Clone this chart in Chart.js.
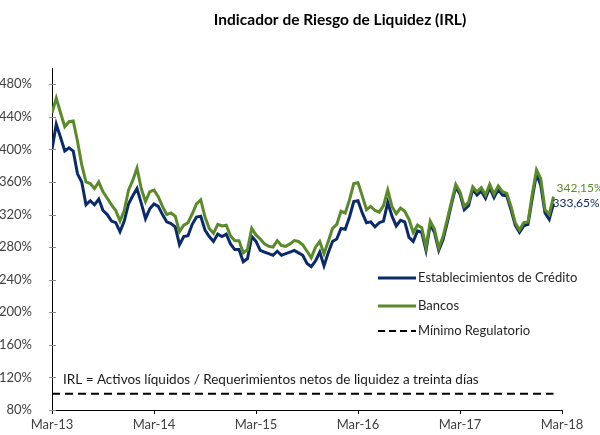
<!DOCTYPE html>
<html>
<head>
<meta charset="utf-8">
<script src="https://cdn.jsdelivr.net/npm/chart.js@4.4.1/dist/chart.umd.min.js"></script>
<style>
  body { margin: 0; background: #fff; }
  #wrap { width: 600px; height: 435px; }
</style>
</head>
<body>
<div id="wrap"><canvas id="irl" width="600" height="435"></canvas></div>
<script>
// - data (semi-monthly readings, Mar-13 .. Feb-18) -------------------
const yearLabels = ['Mar-13', 'Mar-14', 'Mar-15', 'Mar-16', 'Mar-17', 'Mar-18'];

const establecimientos = [
  400, 431, 415, 398, 402, 398, 370, 360, 332, 337, 332, 339, 325, 320, 312, 310, 299, 312, 333, 343,
  352, 334, 315, 327, 333, 330, 320, 311, 309, 305, 283, 293, 294, 308, 317, 318, 301, 293, 287, 296,
  293, 296, 284, 277, 277, 262, 266, 293, 287, 276, 274, 272, 270, 275, 270, 272, 274, 276, 273, 270,
  260, 256, 263, 274, 257, 273, 287, 290, 303, 302, 317, 336, 337, 322, 310, 311, 305, 310, 312, 335,
  318, 306, 313, 311, 292, 287, 300, 298, 276, 308, 298, 276, 289, 310, 333, 354, 345, 326, 331, 351,
  344, 349, 340, 353, 341, 351, 344, 343, 326, 307, 298, 306, 308, 340, 370, 356, 322, 314, 333.65
];

const bancos = [
  445, 463, 445, 428, 434, 435, 410, 381, 360, 358, 352, 360, 348, 340, 332, 325, 312, 325, 350, 362,
  377, 352, 336, 348, 350, 342, 330, 320, 322, 318, 299, 307, 310, 321, 333, 338, 317, 303, 297, 308,
  306, 307, 294, 288, 288, 273, 277, 303, 295, 290, 284, 281, 280, 288, 282, 281, 284, 288, 287, 283,
  275, 267, 280, 287, 272, 287, 303, 308, 324, 322, 338, 358, 359, 343, 326, 330, 325, 323, 331, 350,
  330, 321, 328, 324, 314, 298, 307, 304, 280, 312, 302, 279, 293, 314, 336, 357, 348, 330, 335, 354,
  348, 353, 344, 357, 345, 355, 348, 346, 330, 310, 301, 310, 311, 345, 375, 364, 326, 320, 342.15
];

const minimoRegulatorio = 100;
const lastLabels = ['333,65%', '342,15%'];

const BLUE = '#0b2a6a';
const GREEN = '#5b8a2a';
const FONT = 'Lato, "Open Sans", sans-serif';

// x = months since Mar-13 (half-month steps)
const toPoints = (arr) => arr.map((v, i) => ({ x: i / 2, y: v }));
const minimo = establecimientos.map(() => minimoRegulatorio);

// title, note, legend, end labels and y tick marks
const decorPlugin = {
  id: 'decor',
  afterDraw(chart) {
    const { ctx, chartArea, scales } = chart;
    ctx.save();

    // y tick marks (drawn across the axis line)
    ctx.strokeStyle = '#8c8c8c';
    ctx.lineWidth = 1;
    scales.y.ticks.forEach(t => {
      const y = Math.round(scales.y.getPixelForValue(t.value)) + 0.5;
      ctx.beginPath();
      ctx.moveTo(chartArea.left - 3, y);
      ctx.lineTo(chartArea.left + 4, y);
      ctx.stroke();
    });

    // title
    ctx.fillStyle = '#000';
    ctx.font = 'bold 15.5px ' + FONT;
    ctx.textAlign = 'center';
    ctx.textBaseline = 'middle';
    ctx.fillText('Indicador de Riesgo de Liquidez (IRL)', 340, 20);

    // formula note
    ctx.font = '13.5px ' + FONT;
    ctx.textAlign = 'left';
    ctx.fillStyle = '#1a1a1a';
    ctx.fillText('IRL = Activos líquidos / Requerimientos netos de liquidez a treinta días', 63, 380);

    // legend
    ctx.font = '13px ' + FONT;
    const items = [
      { text: 'Establecimientos de Crédito', color: BLUE, dash: [] },
      { text: 'Bancos', color: GREEN, dash: [] },
      { text: 'Mínimo Regulatorio', color: '#000', dash: [7, 4] },
    ];
    const ly = [278, 306, 331];
    items.forEach((it, i) => {
      ctx.beginPath();
      ctx.setLineDash(it.dash);
      ctx.strokeStyle = it.color;
      ctx.lineWidth = it.dash.length ? 2 : 3;
      ctx.moveTo(378, ly[i]);
      ctx.lineTo(416, ly[i]);
      ctx.stroke();
      ctx.setLineDash([]);
      ctx.fillStyle = '#262626';
      ctx.fillText(it.text, 418, ly[i]);
    });

    // end-of-series labels
    ctx.font = '12px ' + FONT;
    const blueLast = chart.getDatasetMeta(1).data.at(-1);
    const greenLast = chart.getDatasetMeta(0).data.at(-1);
    ctx.fillStyle = BLUE;
    ctx.fillText(lastLabels[0], blueLast.x - 1, blueLast.y);
    ctx.fillStyle = GREEN;
    ctx.fillText(lastLabels[1], greenLast.x + 3, greenLast.y - 8);

    ctx.restore();
  }
};

const ctx = document.getElementById('irl').getContext('2d');
new Chart(ctx, {
  type: 'line',
  data: {
    datasets: [
      {
        label: 'Bancos',
        data: toPoints(bancos),
        borderColor: GREEN,
        borderWidth: 3,
        pointRadius: 0,
        order: 1
      },
      {
        label: 'Establecimientos de Crédito',
        data: toPoints(establecimientos),
        borderColor: BLUE,
        borderWidth: 3,
        pointRadius: 0,
        order: 2
      },
      {
        label: 'Mínimo Regulatorio',
        data: toPoints(minimo),
        borderColor: '#000',
        borderWidth: 2,
        borderDash: [8, 5],
        pointRadius: 0,
        order: 3
      }
    ]
  },
  options: {
    responsive: false,
    animation: false,
    layout: { padding: { top: 68, right: 38, left: 0, bottom: 0 } },
    scales: {
      x: {
        type: 'linear',
        min: 0,
        max: 60,
        afterFit: (s) => { s.height = 25; },
        grid: { drawOnChartArea: false, tickLength: 4, color: '#000' },
        border: { color: '#000', width: 1 },
        ticks: {
          stepSize: 12,
          padding: 3,
          maxRotation: 0,
          color: '#404040',
          font: { family: FONT, size: 13 },
          callback: (v) => yearLabels[v / 12] ?? ''
        }
      },
      y: {
        min: 80,
        max: 500,
        afterFit: (s) => { s.width = 52; },
        afterBuildTicks: (s) => { s.ticks = s.ticks.filter(t => t.value <= 480); },
        grid: { display: false },
        border: { display: true, color: '#000', width: 1 },
        ticks: {
          stepSize: 40,
          padding: 12,
          color: '#404040',
          font: { family: FONT, size: 13 },
          callback: (v) => v + '%'
        }
      }
    },
    plugins: {
      legend: { display: false },
      tooltip: { enabled: false }
    }
  },
  plugins: [decorPlugin]
});
</script>
</body>
</html>
